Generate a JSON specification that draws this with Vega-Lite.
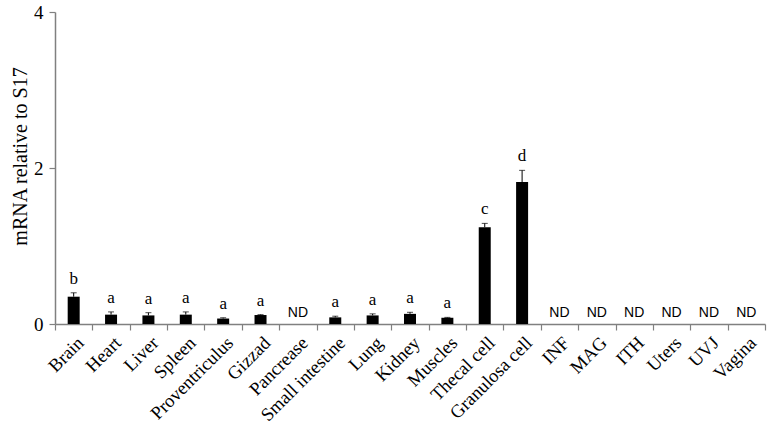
{
  "$schema": "https://vega.github.io/schema/vega-lite/v6.json",
  "autosize": {"type": "none"},
  "padding": {"left": 55, "top": 12, "right": 2, "bottom": 104},
  "width": 710,
  "height": 312,
  "background": "white",
  "config": {"view": {"stroke": null}},
  "data": {"values": [
    {"tissue": "Brain", "value": 0.35, "upper": 0.40, "label": "b", "nd": false},
    {"tissue": "Heart", "value": 0.12, "upper": 0.155, "label": "a", "nd": false},
    {"tissue": "Liver", "value": 0.11, "upper": 0.145, "label": "a", "nd": false},
    {"tissue": "Spleen", "value": 0.12, "upper": 0.155, "label": "a", "nd": false},
    {"tissue": "Proventriculus", "value": 0.07, "upper": 0.08, "label": "a", "nd": false},
    {"tissue": "Gizzad", "value": 0.115, "upper": 0.12, "label": "a", "nd": false},
    {"tissue": "Pancrease", "value": 0, "upper": 0, "label": "ND", "nd": true},
    {"tissue": "Small intestine", "value": 0.085, "upper": 0.10, "label": "a", "nd": false},
    {"tissue": "Lung", "value": 0.11, "upper": 0.13, "label": "a", "nd": false},
    {"tissue": "Kidney", "value": 0.13, "upper": 0.15, "label": "a", "nd": false},
    {"tissue": "Muscles", "value": 0.08, "upper": 0.085, "label": "a", "nd": false},
    {"tissue": "Thecal cell", "value": 1.24, "upper": 1.29, "label": "c", "nd": false},
    {"tissue": "Granulosa cell", "value": 1.82, "upper": 1.97, "label": "d", "nd": false},
    {"tissue": "INF", "value": 0, "upper": 0, "label": "ND", "nd": true},
    {"tissue": "MAG", "value": 0, "upper": 0, "label": "ND", "nd": true},
    {"tissue": "ITH", "value": 0, "upper": 0, "label": "ND", "nd": true},
    {"tissue": "Uters", "value": 0, "upper": 0, "label": "ND", "nd": true},
    {"tissue": "UVJ", "value": 0, "upper": 0, "label": "ND", "nd": true},
    {"tissue": "Vagina", "value": 0, "upper": 0, "label": "ND", "nd": true}
  ]},
  "encoding": {
    "x": {
      "field": "tissue", "type": "nominal",
      "sort": ["Brain", "Heart", "Liver", "Spleen", "Proventriculus", "Gizzad", "Pancrease", "Small intestine", "Lung", "Kidney", "Muscles", "Thecal cell", "Granulosa cell", "INF", "MAG", "ITH", "Uters", "UVJ", "Vagina"],
      "scale": {"paddingInner": 0, "paddingOuter": 0},
      "axis": {
        "title": null, "labelAngle": -45, "labelAlign": "right", "labelBaseline": "top",
        "labelFont": "Liberation Serif", "labelFontSize": 18.5, "labelColor": "black",
        "labelPadding": 3, "tickBand": "extent", "tickSize": 6,
        "domainColor": "#808080", "tickColor": "#808080", "domainWidth": 1.5, "tickWidth": 1.2
      }
    }
  },
  "layer": [
    {
      "mark": {"type": "bar", "color": "black", "size": 12},
      "transform": [{"filter": "!datum.nd"}],
      "encoding": {
        "y": {
          "field": "value", "type": "quantitative",
          "scale": {"domain": [0, 4], "nice": false},
          "axis": {
            "title": "mRNA relative to S17", "titleFont": "Liberation Serif", "titleFontSize": 20,
            "titleFontWeight": "normal", "titleColor": "black", "titlePadding": 3, "titleY": 144,
            "values": [0, 2, 4], "format": "d", "grid": false, "labelFont": "Liberation Serif", "labelFontSize": 19,
            "labelColor": "black", "tickSize": 6, "labelPadding": 6,
            "domainColor": "#808080", "tickColor": "#808080", "domainWidth": 1.5, "tickWidth": 1.2
          }
        }
      }
    },
    {
      "mark": {"type": "rule", "color": "black", "strokeWidth": 1},
      "transform": [{"filter": "!datum.nd"}],
      "encoding": {"y": {"field": "value", "type": "quantitative"}, "y2": {"field": "upper"}}
    },
    {
      "mark": {"type": "tick", "color": "black", "size": 6, "thickness": 1},
      "transform": [{"filter": "!datum.nd"}],
      "encoding": {"y": {"field": "upper", "type": "quantitative"}}
    },
    {
      "mark": {"type": "text", "font": "Liberation Serif", "fontSize": 17, "color": "black", "baseline": "bottom", "dy": -5},
      "transform": [{"filter": "!datum.nd"}],
      "encoding": {"y": {"field": "upper", "type": "quantitative"}, "text": {"field": "label"}}
    },
    {
      "mark": {"type": "text", "font": "Liberation Sans", "fontSize": 14, "color": "black", "baseline": "bottom", "dy": -4},
      "transform": [{"filter": "datum.nd"}],
      "encoding": {"y": {"field": "upper", "type": "quantitative"}, "text": {"field": "label"}}
    }
  ]
}
